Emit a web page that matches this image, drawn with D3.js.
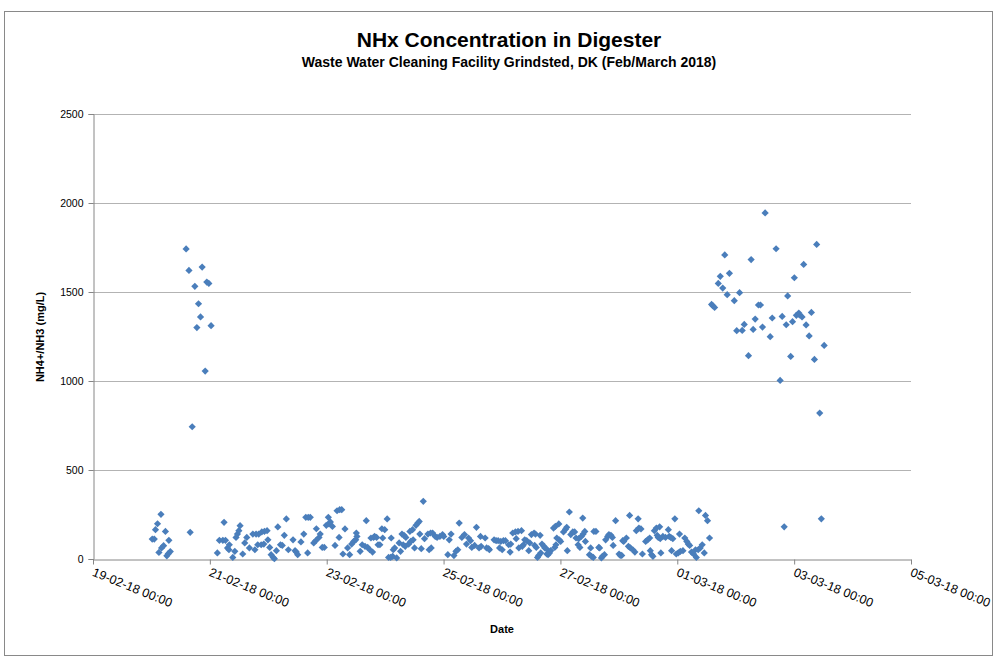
<!DOCTYPE html>
<html lang="en">
<head>
<meta charset="utf-8">
<script src="https://cdn.jsdelivr.net/npm/d3@7"></script>
<style type="text/css">
body {
	margin: 0;
	background-color: #ffffff;
	font-family: "Liberation Sans", sans-serif;
}
.axis text {
	fill: #000;
}
.grid line {
	stroke: #b3b3b3;
}
</style>
</head>
<body>
<script type="text/javascript">

// sample times (dd-mm-yy HH:MM) and NH4+/NH3 readings
var times = [
 "20-02-18 00:20","20-02-18 01:10","20-02-18 01:40","20-02-18 02:30","20-02-18 03:05","20-02-18 03:55","20-02-18 04:10","20-02-18 05:00",
 "20-02-18 05:45","20-02-18 06:20","20-02-18 06:55","20-02-18 07:10","20-02-18 07:45","20-02-18 14:15","20-02-18 15:25","20-02-18 15:55",
 "20-02-18 16:45","20-02-18 17:50","20-02-18 18:40","20-02-18 19:20","20-02-18 20:10","20-02-18 20:50","20-02-18 22:05","20-02-18 22:45",
 "20-02-18 23:35",
 "21-02-18 00:30","21-02-18 03:05","21-02-18 03:55","21-02-18 05:20","21-02-18 05:50","21-02-18 06:25","21-02-18 07:15","21-02-18 07:50",
 "21-02-18 08:00","21-02-18 09:25","21-02-18 10:15","21-02-18 10:45","21-02-18 11:20","21-02-18 11:55","21-02-18 12:25","21-02-18 13:30",
 "21-02-18 14:20","21-02-18 15:10","21-02-18 16:15","21-02-18 17:40","21-02-18 18:30","21-02-18 19:00","21-02-18 19:40","21-02-18 20:05",
 "21-02-18 21:05","21-02-18 21:20","21-02-18 22:10","21-02-18 22:25","21-02-18 23:30","21-02-18 23:50",
 "22-02-18 00:35","22-02-18 01:10","22-02-18 02:00","22-02-18 02:30","22-02-18 03:20","22-02-18 03:55","22-02-18 05:00","22-02-18 05:45",
 "22-02-18 06:35","22-02-18 07:25","22-02-18 08:15","22-02-18 10:10","22-02-18 11:00","22-02-18 11:30","22-02-18 12:05","22-02-18 13:25",
 "22-02-18 14:35","22-02-18 15:25","22-02-18 16:10","22-02-18 16:25","22-02-18 17:15","22-02-18 18:40","22-02-18 19:30","22-02-18 19:45",
 "22-02-18 20:50","22-02-18 21:20","22-02-18 22:10","22-02-18 23:00","22-02-18 23:50",
 "23-02-18 00:40","23-02-18 00:55","23-02-18 01:30","23-02-18 02:20","23-02-18 03:25","23-02-18 04:15","23-02-18 05:05","23-02-18 05:20",
 "23-02-18 06:10","23-02-18 06:40","23-02-18 07:30","23-02-18 08:35","23-02-18 09:25","23-02-18 10:15","23-02-18 11:05","23-02-18 11:55",
 "23-02-18 12:10","23-02-18 12:25","23-02-18 13:45","23-02-18 14:35","23-02-18 15:45","23-02-18 16:15","23-02-18 16:50","23-02-18 17:40",
 "23-02-18 18:10","23-02-18 18:50","23-02-18 19:15","23-02-18 19:40","23-02-18 20:30","23-02-18 21:05","23-02-18 21:50","23-02-18 22:40",
 "23-02-18 23:00","23-02-18 23:50",
 "24-02-18 00:50","24-02-18 01:25","24-02-18 02:15","24-02-18 02:30","24-02-18 03:05","24-02-18 03:20","24-02-18 03:55","24-02-18 04:45",
 "24-02-18 05:45","24-02-18 06:20","24-02-18 06:55","24-02-18 07:25","24-02-18 07:45","24-02-18 08:15","24-02-18 08:30","24-02-18 09:40",
 "24-02-18 10:10","24-02-18 10:30","24-02-18 11:15","24-02-18 11:30","24-02-18 12:05","24-02-18 12:40","24-02-18 13:25","24-02-18 14:00",
 "24-02-18 14:15","24-02-18 14:50","24-02-18 15:40","24-02-18 16:10","24-02-18 17:35","24-02-18 18:05","24-02-18 18:40","24-02-18 18:55",
 "24-02-18 19:30","24-02-18 20:35","24-02-18 21:20","24-02-18 22:30","24-02-18 23:35",
 "25-02-18 00:05","25-02-18 01:45","25-02-18 02:20","25-02-18 03:05","25-02-18 04:15","25-02-18 05:05","25-02-18 05:50","25-02-18 06:25",
 "25-02-18 07:30","25-02-18 08:35","25-02-18 09:25","25-02-18 10:15","25-02-18 11:05","25-02-18 11:35","25-02-18 12:45","25-02-18 13:30",
 "25-02-18 14:35","25-02-18 15:10","25-02-18 15:25","25-02-18 17:05","25-02-18 17:40","25-02-18 18:30","25-02-18 18:50","25-02-18 20:45",
 "25-02-18 21:35","25-02-18 22:25","25-02-18 23:00","25-02-18 23:30",
 "26-02-18 00:05","26-02-18 00:35","26-02-18 01:25","26-02-18 02:45","26-02-18 03:20","26-02-18 03:35","26-02-18 04:25","26-02-18 05:30",
 "26-02-18 05:50","26-02-18 06:35","26-02-18 06:55","26-02-18 08:00","26-02-18 08:20","26-02-18 08:50","26-02-18 09:20","26-02-18 10:10",
 "26-02-18 11:00","26-02-18 11:25","26-02-18 12:05","26-02-18 13:10","26-02-18 13:25","26-02-18 13:45","26-02-18 14:05","26-02-18 14:35",
 "26-02-18 15:05","26-02-18 15:40","26-02-18 15:55","26-02-18 16:25","26-02-18 17:15","26-02-18 17:35","26-02-18 18:25","26-02-18 18:40",
 "26-02-18 18:55","26-02-18 19:30","26-02-18 20:00","26-02-18 21:10","26-02-18 21:40","26-02-18 21:55","26-02-18 22:10","26-02-18 22:30",
 "26-02-18 23:20","26-02-18 23:30",
 "27-02-18 00:05","27-02-18 01:15","27-02-18 02:05","27-02-18 02:35","27-02-18 02:50","27-02-18 03:40","27-02-18 04:15","27-02-18 05:05",
 "27-02-18 05:50","27-02-18 06:25","27-02-18 07:15","27-02-18 07:30","27-02-18 08:00","27-02-18 08:35","27-02-18 09:10","27-02-18 09:20",
 "27-02-18 10:00","27-02-18 10:15","27-02-18 11:55","27-02-18 12:25","27-02-18 12:45","27-02-18 13:30","27-02-18 13:45","27-02-18 14:35",
 "27-02-18 15:45","27-02-18 16:05","27-02-18 16:50","27-02-18 17:15","27-02-18 18:05","27-02-18 18:35","27-02-18 19:25","27-02-18 19:55",
 "27-02-18 20:45","27-02-18 21:20","27-02-18 21:40","27-02-18 22:40",
 "28-02-18 00:05","28-02-18 00:35","28-02-18 01:10","28-02-18 01:35","28-02-18 02:00","28-02-18 03:05","28-02-18 03:55","28-02-18 04:25",
 "28-02-18 04:45","28-02-18 05:45","28-02-18 06:35","28-02-18 07:10","28-02-18 07:55","28-02-18 08:15","28-02-18 09:05","28-02-18 09:40",
 "28-02-18 11:00","28-02-18 11:50","28-02-18 12:40","28-02-18 12:55","28-02-18 13:25","28-02-18 14:00","28-02-18 14:35","28-02-18 15:25",
 "28-02-18 15:45","28-02-18 16:10","28-02-18 16:45","28-02-18 17:00","28-02-18 17:15","28-02-18 18:05","28-02-18 19:10","28-02-18 20:20",
 "28-02-18 20:40","28-02-18 21:20","28-02-18 21:40","28-02-18 22:10","28-02-18 23:00","28-02-18 23:35",
 "01-03-18 00:25","01-03-18 00:55","01-03-18 01:15","01-03-18 02:20","01-03-18 03:05","01-03-18 03:55","01-03-18 04:30","01-03-18 05:05",
 "01-03-18 05:50","01-03-18 06:40","01-03-18 07:30","01-03-18 07:50","01-03-18 08:35","01-03-18 08:50","01-03-18 09:25","01-03-18 10:15",
 "01-03-18 11:05","01-03-18 11:35","01-03-18 12:25","01-03-18 13:15","01-03-18 14:05","01-03-18 14:35","01-03-18 15:20","01-03-18 16:50",
 "01-03-18 17:40","01-03-18 18:40","01-03-18 19:30","01-03-18 20:30","01-03-18 21:25","01-03-18 23:25",
 "02-03-18 00:25","02-03-18 01:35","02-03-18 02:40","02-03-18 03:30","02-03-18 05:15","02-03-18 06:20","02-03-18 07:10","02-03-18 08:00",
 "02-03-18 09:20","02-03-18 10:10","02-03-18 11:00","02-03-18 12:05","02-03-18 14:10","02-03-18 15:00","02-03-18 16:35","02-03-18 18:15",
 "02-03-18 19:05","02-03-18 19:55","02-03-18 20:45","02-03-18 21:20","02-03-18 22:35","02-03-18 23:20",
 "03-03-18 00:05","03-03-18 00:55","03-03-18 01:55","03-03-18 02:10","03-03-18 03:15","03-03-18 03:55","03-03-18 04:55","03-03-18 06:10",
 "03-03-18 07:05","03-03-18 08:20","03-03-18 09:15","03-03-18 10:30","03-03-18 11:10","03-03-18 12:20"
];

var values = [
 112,112,165,198,37,251,62,75,
 155,18,30,105,42,1742,1621,150,
 743,1532,1300,1434,1360,1640,1056,1556,
 1548,
 1311,34,105,105,206,105,62,52,
 80,9,43,121,140,159,187,28,
 90,121,62,140,52,140,80,140,
 80,152,84,155,159,108,
 65,24,9,2,47,180,80,76,
 133,225,52,108,47,39,24,96,
 140,234,34,234,234,90,103,170,
 121,140,65,65,189,
 234,197,208,183,76,271,121,277,
 277,28,169,62,24,84,99,108,
 146,127,43,80,71,215,65,52,
 118,39,121,127,121,80,80,170,
 118,165,
 225,9,9,118,15,52,62,6,
 90,43,140,80,133,71,121,84,
 155,99,165,108,62,189,202,211,
 140,58,324,114,140,52,146,62,
 146,127,121,127,137,
 127,24,108,140,19,43,52,202,
 121,137,84,118,103,65,76,178,
 62,127,71,118,62,58,52,108,
 103,103,62,99,
 52,103,103,80,39,84,146,152,
 114,155,62,159,71,80,108,103,
 47,90,137,146,76,140,65,9,
 20,133,34,84,71,62,28,52,
 24,34,47,174,65,183,80,118,
 197,108,
 99,152,167,178,47,264,137,152,
 152,118,80,114,65,127,230,140,
 155,99,24,62,15,9,155,155,
 65,62,6,15,24,108,127,137,
 133,121,76,215,
 28,20,20,103,99,118,71,245,
 62,52,39,159,226,174,169,28,
 99,108,118,47,24,15,159,174,
 133,121,181,114,34,127,121,165,
 127,121,47,114,226,28,
 34,140,43,47,118,99,84,76,
 39,28,52,9,52,271,62,80,
 34,245,215,118,1430,1423,1413,1548,
 1588,1522,1708,1485,1605,1451,
 1283,1496,1284,1318,1142,1682,1290,1348,
 1427,1427,1303,1944,1249,1354,1743,1003,
 1363,181,1316,1478,1138,1333,
 1580,1369,1382,1372,1360,1655,1315,1253,
 1385,1121,1767,820,226,1200
];

var yTicks = [0, 500, 1000, 1500, 2000, 2500];
var xStart = "19-02-18 00:00";
var xEnd = "05-03-18 00:00";

var chartTitle = "NHx Concentration in Digester";
var chartSubtitle = "Waste Water Cleaning Facility Grindsted, DK (Feb/March 2018)";
var xTitle = "Date";
var yTitle = "NH4+/NH3 (mg/L)";

var parseTime = d3.timeParse("%d-%m-%y %H:%M");
var formatTime = d3.timeFormat("%d-%m-%y %H:%M");

var width = 997, height = 659;
var plot = { left: 93, right: 911, top: 114, bottom: 559 };

var svg = d3.select("body").append("svg")
	.attr("width", width)
	.attr("height", height);

// chart border
svg.append("rect")
	.attr("x", 4.5).attr("y", 11.5)
	.attr("width", 988).attr("height", 644)
	.attr("fill", "none")
	.attr("stroke", "#898989")
	.attr("stroke-width", 1);

var x = d3.scaleTime()
	.domain([parseTime(xStart), parseTime(xEnd)])
	.range([plot.left, plot.right]);

var y = d3.scaleLinear()
	.domain([0, 2500])
	.range([plot.bottom, plot.top]);

// horizontal gridlines
svg.append("g")
	.attr("class", "grid")
	.selectAll("line")
	.data(yTicks.slice(1))
	.enter().append("line")
	.attr("x1", plot.left).attr("x2", plot.right)
	.attr("y1", function(d) { return Math.round(y(d)) + 0.5; })
	.attr("y2", function(d) { return Math.round(y(d)) + 0.5; });

// y axis
var yAxis = d3.axisLeft(y)
	.tickValues(yTicks)
	.tickFormat(d3.format("d"))
	.tickSize(5)
	.tickPadding(5);
var gy = svg.append("g")
	.attr("class", "axis")
	.attr("transform", "translate(" + (plot.left + 0.5) + ",0)")
	.call(yAxis);
gy.selectAll("path, line").attr("stroke", "#868686");
gy.selectAll("text").style("font-size", "10.5px").style("font-family", "Liberation Sans, sans-serif");

// x axis
var xAxis = d3.axisBottom(x)
	.ticks(d3.timeDay.every(2))
	.tickFormat(formatTime)
	.tickSize(5)
	.tickSizeOuter(0);
var gx = svg.append("g")
	.attr("class", "axis")
	.attr("transform", "translate(0," + (plot.bottom + 0.5) + ")")
	.call(xAxis);
gx.selectAll("path, line").attr("stroke", "#868686");
gx.selectAll("text")
	.attr("text-anchor", "start")
	.attr("x", 0).attr("y", 0).attr("dy", 0)
	.style("font-size", "12.5px")
	.style("font-family", "Liberation Sans, sans-serif")
	.attr("transform", "translate(-2,16) rotate(22)");

// points
var diamond = d3.symbol().type(d3.symbolSquare).size(26);
svg.append("g")
	.selectAll("path")
	.data(times.map(function(t, i) { return { t: parseTime(t), v: values[i] }; }))
	.enter().append("path")
	.attr("d", diamond)
	.attr("transform", function(d) {
		return "translate(" + x(d.t) + "," + y(d.v) + ") rotate(45)";
	})
	.attr("fill", "#4a7ebb");

// titles
svg.append("text")
	.attr("x", 509).attr("y", 47)
	.attr("text-anchor", "middle")
	.style("font-size", "21px")
	.style("font-weight", "bold")
	.text(chartTitle);

svg.append("text")
	.attr("x", 509).attr("y", 67)
	.attr("text-anchor", "middle")
	.style("font-size", "14px")
	.style("font-weight", "bold")
	.text(chartSubtitle);

svg.append("text")
	.attr("x", 502).attr("y", 633)
	.attr("text-anchor", "middle")
	.style("font-size", "11px")
	.style("font-weight", "bold")
	.text(xTitle);

svg.append("text")
	.attr("transform", "translate(44,337) rotate(-90)")
	.attr("text-anchor", "middle")
	.style("font-size", "11px")
	.style("font-weight", "bold")
	.text(yTitle);

</script>
</body>
</html>
